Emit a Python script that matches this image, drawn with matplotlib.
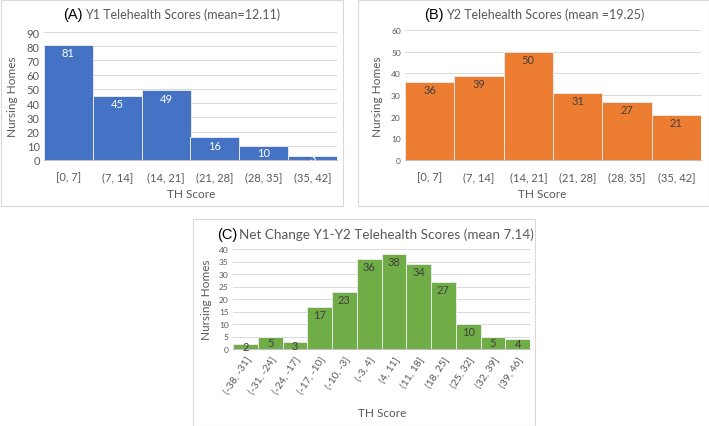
import matplotlib.pyplot as plt
from matplotlib.patches import Rectangle

plt.rcParams['font.family'] = ['Lato', 'DejaVu Sans']

# data
bins_y = ['[0, 7]', '(7, 14]', '(14, 21]', '(21, 28]', '(28, 35]', '(35, 42]']
y1_counts = [81, 45, 49, 16, 10, 3]
y2_counts = [36, 39, 50, 31, 27, 21]
bins_net = ['(-38, -31]', '(-31, -24]', '(-24, -17]', '(-17, -10]', '(-10, -3]', '(-3, 4]',
            '(4, 11]', '(11, 18]', '(18, 25]', '(25, 32]', '(32, 39]', '(39, 46]']
net_counts = [2, 5, 3, 17, 23, 36, 38, 34, 27, 10, 5, 4]

W, H = 709, 427
fig = plt.figure(figsize=(W / 100, H / 100), dpi=100)
grey = '#595959'


def px(x, y):
    return x / W, 1 - y / H


def panel(box, axrect, labels, counts, color, ymax, ystep, lblcolor, ytickfs, xtickfs, rot=False):
    x0, y0, x1, y1 = box
    fig.patches.append(Rectangle(px(x0, y1), (x1 - x0) / W, (y1 - y0) / H,
                                 transform=fig.transFigure, fill=False,
                                 edgecolor='#D9D9D9', linewidth=0.8))
    l, t, r, b = axrect
    ax = fig.add_axes([l / W, 1 - b / H, (r - l) / W, (b - t) / H])
    xs = range(len(counts))
    ax.bar(xs, counts, width=1.0, color=color, edgecolor='#E8E8E8', linewidth=0.7, zorder=2)
    ax.set_xlim(-0.5, len(counts) - 0.5)
    ax.set_ylim(0, ymax)
    ax.set_yticks(range(0, ymax + 1, ystep))
    ax.grid(axis='y', color='#D9D9D9', linewidth=0.7, zorder=0)
    for s in ['left', 'right', 'top']:
        ax.spines[s].set_visible(False)
    ax.spines['bottom'].set_color('#BFBFBF')
    ax.tick_params(axis='both', length=0, colors=grey)
    ax.tick_params(axis='y', pad=3, labelsize=ytickfs)
    ax.set_xticks(list(xs))
    if rot:
        ax.set_xticklabels(labels, rotation=57, ha='right', rotation_mode='anchor', fontsize=xtickfs)
        ax.tick_params(axis='x', pad=4)
    else:
        ax.set_xticklabels(labels, fontsize=xtickfs)
        ax.tick_params(axis='x', pad=8)
    per_px = ymax / (b - t)
    for x, v in zip(xs, counts):
        yl = max(v - 8 * per_px, v / 2)
        ax.text(x, yl, str(v), ha='center', va='center', color=lblcolor, fontsize=8, zorder=3)
    return ax


panel((1, 1, 343, 207), (44, 33, 337, 161), bins_y, y1_counts, '#4472C4', 90, 10, 'white', 8, 8)
panel((358, 1, 709, 207), (405, 31, 701, 161), bins_y, y2_counts, '#ED7D31', 60, 10, '#404040', 6, 8)
panel((193, 220, 535, 427), (233, 250, 530, 350), bins_net, net_counts, '#70AD47', 40, 5, '#404040', 6, 7.5,
      rot=True)

# titles
for tag, main, xs, yc, fs in [('(A)', 'Y1 Telehealth Scores (mean=12.11)', 83, 15, 9),
                              ('(B)', 'Y2 Telehealth Scores (mean =19.25)', 444, 15, 9),
                              ('(C)', 'Net Change Y1-Y2 Telehealth Scores (mean 7.14)', 237, 235, 9.7)]:
    fig.text(*px(xs, yc), tag, ha='right', va='center', fontsize=10.5,
             family=['Liberation Sans', 'DejaVu Sans'], color='black')
    fig.text(*px(xs + 2, yc), main, ha='left', va='center', fontsize=fs, color=grey)

# axis labels
for xl, yl, xx, yx in [(13, 97, 191, 194), (378, 97, 542, 194), (206, 300, 382, 414)]:
    fig.text(*px(xl, yl), 'Nursing Homes', rotation=90, ha='center', va='center', fontsize=8.5, color=grey)
    fig.text(*px(xx, yx), 'TH Score', ha='center', va='center', fontsize=8.5, color=grey)

fig.savefig('out.png', dpi=100)
